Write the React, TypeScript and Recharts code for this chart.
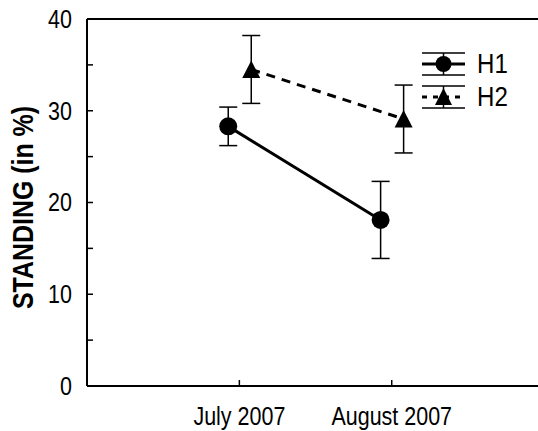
import { ErrorBar, Legend, Line, LineChart, XAxis, YAxis } from "recharts";

// categories + series (means and error bar half-lengths, in %)
const months = ["July 2007", "August 2007"];
const seriesNames = ["H1", "H2"];
const h1Mean = [28.3, 18.1];
const h1Err = [2.1, 4.2];
const h2Mean = [34.5, 29.1];
const h2Err = [3.7, 3.7];
const yTicks = [0, 5, 10, 15, 20, 25, 30, 35, 40];
const yLabels = [0, 10, 20, 30, 40];

const FONT = "'Liberation Sans', Arial, sans-serif";
const NARROW = 0.86; // the original uses a condensed Helvetica

// small horizontal dodge so the two groups don't overlap
const H1_SHIFT = -0.073;
const H2_SHIFT = 0.078;

const h1Data = months.map((m, i) => ({ x: i + 1 + H1_SHIFT, month: m, mean: h1Mean[i], err: h1Err[i] }));
const h2Data = months.map((m, i) => ({ x: i + 1 + H2_SHIFT, month: m, mean: h2Mean[i], err: h2Err[i] }));

const Triangle = (props: any) => {
  const { cx, cy, index } = props;
  if (cx == null || cy == null) return null;
  return (
    <polygon
      key={`tri-${index}`}
      points={`${cx},${cy - 9} ${cx - 9},${cy + 8.5} ${cx + 9},${cy + 8.5}`}
      fill="#000"
    />
  );
};

const XTick = (props: any) => {
  const { x, y, payload } = props;
  const label = months[Math.round(payload.value) - 1] ?? "";
  return (
    <text
      transform={`translate(${x},${y}) scale(${NARROW},1)`}
      textAnchor="middle"
      dy="0.71em"
      fontSize={25}
      fontFamily={FONT}
      fill="#000"
    >
      {label}
    </text>
  );
};

const YTick = (props: any) => {
  const { x, y, payload } = props;
  if (!yLabels.includes(payload.value)) return <g />;
  return (
    <text
      transform={`translate(${x},${y}) scale(${NARROW},1)`}
      textAnchor="end"
      dy="0.355em"
      fontSize={25}
      fontFamily={FONT}
      fill="#000"
    >
      {payload.value}
    </text>
  );
};

const YLabel = (props: any) => {
  const vb = props.viewBox || { x: 0, y: 0, width: 0, height: 0 };
  return (
    <text
      transform={`translate(${vb.x + 23},${vb.y + vb.height / 2 + 5}) rotate(-90) scale(${NARROW},1)`}
      textAnchor="middle"
      dominantBaseline="central"
      fontFamily={FONT}
      fontWeight="bold"
      fontSize={29}
      fill="#000"
    >
      STANDING (in %)
    </text>
  );
};

const renderLegend = () => (
  <div style={{ fontFamily: FONT, fontSize: 28, lineHeight: 1, color: "#000" }}>
    {seriesNames.map((name, i) => (
      <div key={name} style={{ display: "flex", alignItems: "center", height: 33 }}>
        <svg width={43} height={24} style={{ display: "block" }}>
          <line x1={0} x2={43} y1={1} y2={1} stroke="#000" strokeWidth={1.5} />
          <line x1={0} x2={43} y1={23} y2={23} stroke="#000" strokeWidth={1.5} />
          <line x1={21.5} x2={21.5} y1={1} y2={23} stroke="#000" strokeWidth={1.5} />
          <line
            x1={0}
            x2={43}
            y1={12}
            y2={12}
            stroke="#000"
            strokeWidth={3}
            strokeDasharray={i === 1 ? "5 6" : undefined}
          />
          {i === 0 ? (
            <circle cx={21.5} cy={12} r={8} fill="#000" />
          ) : (
            <polygon points="21.5,3 13,20 30,20" fill="#000" />
          )}
        </svg>
        <span
          style={{
            marginLeft: 12,
            display: "inline-block",
            transform: `scaleX(${NARROW})`,
            transformOrigin: "left center",
          }}
        >
          {name}
        </span>
      </div>
    ))}
  </div>
);

export default function App() {
  return (
    <div style={{ width: 538, height: 431, background: "#fff", position: "relative" }}>
      <style>{"body{margin:0}"}</style>
      <LineChart width={538} height={431} margin={{ top: 0, right: 0, bottom: 0, left: 0 }}>
        <XAxis
          dataKey="x"
          type="number"
          domain={[0, 2.96]}
          ticks={[1, 2]}
          allowDataOverflow
          axisLine={{ stroke: "#000", strokeWidth: 2 }}
          tickLine={{ stroke: "#000", strokeWidth: 1.5 }}
          tickSize={-6}
          tickMargin={27}
          height={45}
          tick={XTick}
        />
        <XAxis
          xAxisId="top"
          orientation="top"
          type="number"
          domain={[0, 2.96]}
          ticks={[1, 2]}
          allowDataOverflow
          tickFormatter={() => ""}
          axisLine={{ stroke: "#000", strokeWidth: 2 }}
          tickLine={{ stroke: "#000", strokeWidth: 1.5 }}
          tickSize={-6}
          height={19}
        />
        <YAxis
          type="number"
          domain={[0, 40]}
          ticks={yTicks}
          axisLine={{ stroke: "#000", strokeWidth: 2 }}
          tickLine={{ stroke: "#000", strokeWidth: 1.5 }}
          tickSize={-6}
          tickMargin={21}
          width={87}
          tick={YTick}
          label={{ content: YLabel }}
        />
        <Legend
          layout="vertical"
          align="center"
          verticalAlign="middle"
          content={renderLegend}
          wrapperStyle={{ position: "absolute", left: 422, top: 47, width: 110 }}
        />
        <Line
          data={h2Data}
          dataKey="mean"
          name="H2"
          stroke="#000"
          strokeWidth={3}
          strokeDasharray="9 7"
          dot={Triangle}
          activeDot={false}
          isAnimationActive={false}
        >
          <ErrorBar dataKey="err" direction="y" width={9} stroke="#000" strokeWidth={1.5} isAnimationActive={false} />
        </Line>
        <Line
          data={h1Data}
          dataKey="mean"
          name="H1"
          stroke="#000"
          strokeWidth={3}
          dot={{ r: 9, fill: "#000", stroke: "#000", strokeWidth: 0 }}
          activeDot={false}
          isAnimationActive={false}
        >
          <ErrorBar dataKey="err" direction="y" width={9} stroke="#000" strokeWidth={1.5} isAnimationActive={false} />
        </Line>
      </LineChart>
    </div>
  );
}
